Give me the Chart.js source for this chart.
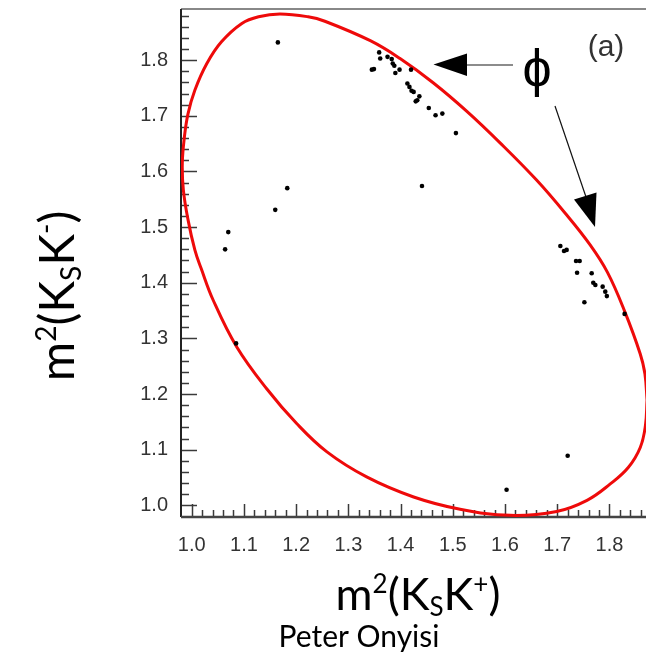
<!DOCTYPE html>
<html>
<head>
<meta charset="utf-8">
<script src="https://cdn.jsdelivr.net/npm/chart.js@4.4.1/dist/chart.umd.min.js"></script>
<style>
html,body{margin:0;padding:0;background:#fff;overflow:hidden;}
canvas{display:block;}
</style>
</head>
<body>
<canvas id="c" width="646" height="655"></canvas>
<script>
// ---- data ----
const eventX = [1.165,1.070,1.064,1.085,1.160,1.183,1.441,1.506,1.603,1.720,
  1.359,1.361,1.375,1.383,1.385,1.388,1.390,1.398,1.345,1.349,1.420,1.413,1.417,1.421,1.425,1.436,1.432,1.429,1.454,1.467,1.480,
  1.706,1.713,1.718,1.736,1.743,1.738,1.766,1.769,1.773,1.787,1.792,1.795,1.752,1.829];
const eventY = [1.832,1.491,1.460,1.291,1.531,1.570,1.574,1.669,1.028,1.089,
  1.814,1.803,1.806,1.802,1.794,1.790,1.777,1.783,1.783,1.784,1.783,1.758,1.752,1.745,1.743,1.735,1.728,1.726,1.714,1.701,1.704,
  1.466,1.457,1.459,1.439,1.439,1.418,1.417,1.400,1.396,1.393,1.384,1.376,1.365,1.344];

// outline of the red contour
const contourX = [1.872,1.869,1.859,1.836,1.801,1.757,1.699,1.610,1.514,1.425,1.335,1.259,1.201,1.144,1.086,1.041,1.018,1.006,0.993,0.984,0.982,0.986,0.993,1.006,1.029,1.057,1.096,1.128,1.169,1.223,1.255,1.342,1.399,1.463,1.527,1.591,1.660,1.717,1.763,1.796,1.829,1.859,1.868,1.872];
const contourY = [1.189,1.144,1.104,1.068,1.038,1.009,0.989,0.982,0.993,1.015,1.051,1.096,1.147,1.209,1.285,1.369,1.426,1.459,1.513,1.567,1.615,1.662,1.704,1.746,1.794,1.833,1.866,1.878,1.883,1.878,1.870,1.835,1.803,1.759,1.708,1.651,1.585,1.523,1.468,1.419,1.349,1.272,1.236,1.189];

const xTickValues = [1.0,1.1,1.2,1.3,1.4,1.5,1.6,1.7,1.8];
const yTickValues = [1.0,1.1,1.2,1.3,1.4,1.5,1.6,1.7,1.8];

const points = eventX.map((x,i)=>({x:x,y:eventY[i]}));
const contour = contourX.map((x,i)=>({x:x,y:contourY[i]}));

function richText(ctx, parts, cx, cy, rot){
  let total = 0;
  parts.forEach(p=>{ctx.font = p.f; p.w = ctx.measureText(p.t).width; total += p.w;});
  ctx.save();
  ctx.translate(cx, cy);
  if (rot) ctx.rotate(-Math.PI/2);
  ctx.textBaseline = 'alphabetic';
  ctx.textAlign = 'left';
  ctx.fillStyle = '#000';
  let x = -total/2;
  parts.forEach(p=>{ctx.font = p.f; ctx.fillText(p.t, x, p.dy||0); x += p.w;});
  ctx.restore();
}

const decor = {
  id:'decor',
  beforeDatasetsDraw(chart){
    const ctx = chart.ctx, a = chart.chartArea;
    const xs = chart.scales.x, ys = chart.scales.y;
    ctx.save();
    ctx.strokeStyle = '#3a3a3a';
    ctx.lineWidth = 1.5;
    for (let i = 0; i <= 43; i++){
      const v = 1.0 + i*0.02;
      const px = Math.round(xs.getPixelForValue(v)) + 0.5;
      if (px > a.right) break;
      const major = i % 5 === 0;
      ctx.beginPath(); ctx.moveTo(px, a.bottom); ctx.lineTo(px, a.bottom - (major?13:7)); ctx.stroke();
    }
    for (let i = 0; i <= 44; i++){
      const v = 1.0 + i*0.02;
      const py = Math.round(ys.getPixelForValue(v)) + 0.5;
      if (py < a.top) break;
      const major = i % 5 === 0;
      ctx.beginPath(); ctx.moveTo(a.left, py); ctx.lineTo(a.left + (major?16:8), py); ctx.stroke();
    }
    ctx.lineWidth = 2;
    ctx.strokeStyle = '#888';
    ctx.beginPath(); ctx.moveTo(a.left, a.top); ctx.lineTo(a.right, a.top); ctx.stroke();
    ctx.strokeStyle = '#222';
    ctx.beginPath(); ctx.moveTo(a.left, a.top); ctx.lineTo(a.left, a.bottom); ctx.stroke();
    ctx.strokeStyle = '#444';
    ctx.lineWidth = 2.5;
    ctx.beginPath(); ctx.moveTo(a.left, a.bottom); ctx.lineTo(a.right, a.bottom); ctx.stroke();
    ctx.restore();
  },
  afterDraw(chart){
    const ctx = chart.ctx;
    const big = '45px Lato', small = '26px Lato';
    richText(ctx, [
      {t:'m', f:big},{t:'2', f:small, dy:-17},{t:'(K', f:big},{t:'S', f:small, dy:6},
      {t:'K', f:big},{t:'+', f:small, dy:-17},{t:')', f:big}
    ], 418, 610, false);
    const bigY = '48px Lato', smallY = '28px Lato';
    richText(ctx, [
      {t:'m', f:bigY},{t:'2', f:smallY, dy:-18},{t:'(K', f:bigY},{t:'S', f:smallY, dy:7},
      {t:'K', f:bigY},{t:'-', f:smallY, dy:-18},{t:')', f:bigY}
    ], 74, 296, true);
    ctx.save();
    ctx.fillStyle = '#000';
    ctx.font = '30px Lato';
    ctx.textAlign = 'center';
    ctx.textBaseline = 'alphabetic';
    ctx.fillText('Peter Onyisi', 359, 647);
    ctx.fillStyle = '#333';
    ctx.font = '30px "Liberation Sans"';
    ctx.textBaseline = 'middle';
    ctx.fillText('(a)', 606, 48);
    ctx.fillStyle = '#000';
    ctx.font = '52px "Liberation Sans", "DejaVu Sans"';
    ctx.fillText('\u03D5', 537, 72);
    ctx.strokeStyle = '#666'; ctx.lineWidth = 1.5;
    ctx.beginPath(); ctx.moveTo(513, 65); ctx.lineTo(466, 65); ctx.stroke();
    ctx.fillStyle = '#000';
    ctx.beginPath(); ctx.moveTo(433.5, 64.5); ctx.lineTo(467, 53.5); ctx.lineTo(467, 76); ctx.closePath(); ctx.fill();
    ctx.strokeStyle = '#111'; ctx.lineWidth = 1.2;
    ctx.beginPath(); ctx.moveTo(555, 106); ctx.lineTo(586, 197); ctx.stroke();
    ctx.beginPath(); ctx.moveTo(595, 227); ctx.lineTo(574, 199.5); ctx.lineTo(596.5, 192.5); ctx.closePath(); ctx.fill();
    ctx.restore();
  }
};

function noPad(s){ s.paddingTop = 0; s.paddingBottom = 0; s.paddingLeft = 0; s.paddingRight = 0; }

new Chart(document.getElementById('c'), {
  type: 'scatter',
  data: {
    datasets: [
      {data: points, pointRadius: 2.3, pointHoverRadius: 2.3, pointBackgroundColor: '#000', pointBorderWidth: 0, showLine: false, order: 0},
      {data: contour, showLine: true, borderColor: '#ee0a0a', borderWidth: 3, pointRadius: 0, pointHoverRadius: 0, tension: 0.4, fill: false, order: 1}
    ]
  },
  options: {
    responsive: false,
    animation: false,
    events: [],
    layout: {autoPadding: false, padding: {top: 9, right: 0, left: 0, bottom: 0}},
    plugins: {legend: {display: false}, tooltip: {enabled: false}},
    scales: {
      x: {
        type: 'linear', min: 0.9795, max: 1.870,
        grid: {display: false, drawTicks: false}, border: {display: false},
        afterBuildTicks: s => { s.ticks = xTickValues.map(v => ({value: v})); },
        afterFit: s => { s.height = 138; noPad(s); },
        ticks: {color: '#333', font: {family: 'Liberation Sans', size: 20}, padding: 16, maxRotation: 0, autoSkip: false,
          callback: v => Number(v).toFixed(1)}
      },
      y: {
        type: 'linear', min: 0.979, max: 1.892,
        grid: {display: false, drawTicks: false}, border: {display: false},
        afterBuildTicks: s => { s.ticks = yTickValues.map(v => ({value: v})); },
        afterFit: s => { s.width = 181; noPad(s); },
        ticks: {color: '#333', font: {family: 'Liberation Sans', size: 20}, padding: 13, autoSkip: false,
          callback: v => Number(v).toFixed(1)}
      }
    }
  },
  plugins: [decor]
});
</script>
</body>
</html>
